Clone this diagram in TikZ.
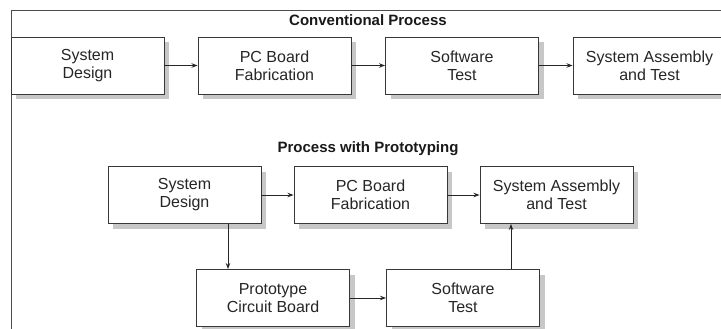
\documentclass[tikz,border=0pt]{standalone}
\usepackage{fontspec}
\setmainfont{Liberation Sans}
\usetikzlibrary{arrows.meta,shadows}
\begin{document}
\begin{tikzpicture}[x=1pt,y=1pt,
  stagebox/.style={draw=black!78, line width=0.95pt, fill=white,
    minimum width=153pt, minimum height=57pt, inner sep=0pt,
    align=center, text=black!85, font=\fontsize{16}{18}\selectfont,
    drop shadow={shadow xshift=5pt, shadow yshift=-5pt, fill=black!22, opacity=1}},
  heading/.style={font=\fontsize{15}{18}\selectfont\bfseries, text=black!90, inner sep=0pt},
  flow/.style={draw=black!85, line width=0.9pt, -{Stealth[length=6pt,width=4.5pt]}},
  frameline/.style={draw=black!70, line width=1pt}]
\useasboundingbox (0,0) rectangle (721,-329);
% outer frame (top and left sides)
\coordinate (ftl) at (11,-11);
\coordinate (ftr) at (721,-11);
\coordinate (fbl) at (11,-329);
\draw[frameline] (ftr) -- (ftl) -- (fbl);

% conventional flow
\node[heading] (t1) at (368,-20) {Conventional Process};
\node[stagebox] (sd1) at (87.5,-65.5) {System\\Design};
\node[stagebox] (pc1) at (274.5,-65.5) {PC Board\\Fabrication};
\node[stagebox] (sw1) at (462,-65.5) {Software\\Test};
\node[stagebox] (sa1) at (649.5,-65.5) {System Assembly\\and Test};
\draw[flow] (sd1) -- (pc1);
\draw[flow] (pc1) -- (sw1);
\draw[flow] (sw1) -- (sa1);

% flow with prototyping
\node[heading] (t2) at (368,-149) {Process with Prototyping};
\node[stagebox] (sd2) at (184.5,-195) {System\\Design};
\node[stagebox] (pc2) at (370.5,-195) {PC Board\\Fabrication};
\node[stagebox] (sa2) at (556.5,-195) {System Assembly\\and Test};
\node[stagebox] (pr) at (273,-298) {Prototype\\Circuit Board};
\node[stagebox] (sw2) at (463,-298) {Software\\Test};
\coordinate (downx) at (228,0);
\coordinate (upx) at (511,0);
\draw[flow] (sd2) -- (pc2);
\draw[flow] (pc2) -- (sa2);
\draw[flow] (sd2.south -| downx) -- (pr.north -| downx);
\draw[flow] (pr) -- (sw2);
\draw[flow] (sw2.north -| upx) -- (sa2.south -| upx);
\end{tikzpicture}
\end{document}
